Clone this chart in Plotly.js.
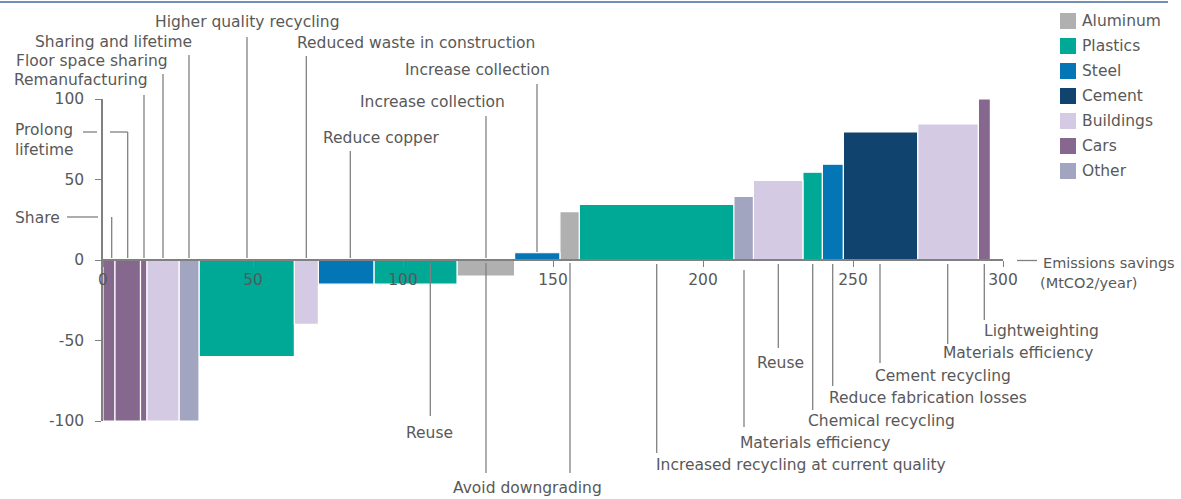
<!DOCTYPE html>
<html>
<head>
<meta charset="utf-8">
<script src="https://cdn.plot.ly/plotly-3.0.1.min.js"></script>
<style>html,body{margin:0;padding:0;background:#fff;}#chart{width:1181px;height:499px;}</style>
</head>
<body>
<div id="chart"></div>
<script>
// ---- Data ----
const levers = ["Share","Prolong lifetime","Remanufacturing","Floor space sharing","Sharing and lifetime",
  "Higher quality recycling","Reduced waste in construction","Reduce copper","Reuse","Increase collection",
  "Increase collection","Avoid downgrading","Increased recycling at current quality","Materials efficiency","Reuse",
  "Chemical recycling","Reduce fabrication losses","Cement recycling","Materials efficiency","Lightweighting"];
const sectors = ["Cars","Cars","Cars","Buildings","Other",
  "Plastics","Buildings","Steel","Plastics","Aluminum",
  "Steel","Aluminum","Plastics","Other","Buildings",
  "Plastics","Steel","Cement","Buildings","Cars"];
const savings = [4, 8.5, 2.1, 10.8, 6.6, 31.8, 8, 18.5, 27.7, 19.2, 15.1, 6.5, 51.5, 6.5, 16.5, 6.5, 7, 24.8, 20.2, 4];
const costs = [-100, -100, -100, -100, -100, -60, -40, -15, -15, -10, 4.5, 30, 34.5, 39.5, 49.5, 54.5, 59.5, 79.5, 84.5, 100];
const sectorNames = ["Aluminum","Plastics","Steel","Cement","Buildings","Cars","Other"];
const yTicks = [-100, -50, 0, 50, 100];
const xTicks = [0, 50, 100, 150, 200, 250, 300];
const xTitle = ["Emissions savings", "(MtCO2/year)"];

// ---- Styles ----
const sectorColors = {Aluminum:"#b0b0b0", Plastics:"#00a896", Steel:"#0476b6", Cement:"#10436e",
  Buildings:"#d4cae3", Cars:"#86688f", Other:"#a1a5bf"};
const TXT = "#595959", LINE = "#808080";
const FONT = "DejaVu Sans, Verdana, sans-serif";
const FS = 15.5;

// plot area in pixels
const L = 103, T = 99, W = 900, H = 322;
const px = X => (X - L) / W;
const py = Y => (T + H - Y) / H;

// bar positions from cumulative savings
const starts = [];
let acc = 0;
savings.forEach(w => { starts.push(acc); acc += w; });

const traces = sectorNames.map(s => {
  const idx = sectors.map((v, i) => v === s ? i : -1).filter(i => i >= 0);
  return {
    type: "bar", name: s,
    x: idx.map(i => starts[i] + savings[i] / 2),
    width: idx.map(i => savings[i]),
    y: idx.map(i => costs[i]),
    customdata: idx.map(i => levers[i]),
    textposition: "none",
    hovertemplate: "%{customdata}<extra>" + s + "</extra>",
    marker: {color: sectorColors[s], line: {color: "#ffffff", width: 1.2}},
    showlegend: false
  };
});

// label layout (pixel positions)
const labelSpec = [
  {i:0, lx:111.7, l1:217, l2:258, tx:60, ty:218, an:"right", h:[[67,98,217]]},
  {i:1, lx:127.7, l1:132, l2:258, tx:15, ty:140, an:"left", txt:"Prolong<br>lifetime", h:[[83,97,132],[110,127.7,132]]},
  {i:2, lx:144, l1:95, l2:258, tx:148, ty:80, an:"right"},
  {i:3, lx:163, l1:74, l2:258, tx:168, ty:61, an:"right"},
  {i:4, lx:189, l1:55, l2:258, tx:192, ty:42, an:"right"},
  {i:5, lx:247, l1:37, l2:258, tx:246.5, ty:22, an:"center"},
  {i:6, lx:306.3, l1:56, l2:258, tx:297, ty:43, an:"left"},
  {i:7, lx:350.3, l1:151, l2:258, tx:323, ty:138, an:"left"},
  {i:8, lx:430.3, l1:263, l2:416, tx:429, ty:433, an:"center"},
  {i:9, lx:486, l1:116, l2:258, tx:360, ty:102, an:"left"},
  {i:10, lx:537, l1:84, l2:252, tx:405, ty:70, an:"left"},
  {i:11, lx:570, l1:263, l2:473, tx:453, ty:488, an:"left", extra:[[486,263,473]]},
  {i:12, lx:656.7, l1:264, l2:453, tx:656, ty:465, an:"left"},
  {i:13, lx:744, l1:270, l2:427, tx:740, ty:443, an:"left"},
  {i:14, lx:778.3, l1:264, l2:348, tx:780, ty:363, an:"center"},
  {i:15, lx:812.7, l1:264, l2:410, tx:808, ty:421, an:"left"},
  {i:16, lx:832.7, l1:264, l2:386, tx:829, ty:398, an:"left"},
  {i:17, lx:880, l1:264, l2:363, tx:875, ty:376, an:"left"},
  {i:18, lx:947.7, l1:264, l2:344, tx:943, ty:353, an:"left"},
  {i:19, lx:984.3, l1:264, l2:320, tx:984, ty:331, an:"left"}
];

const shapes = [];
const annotations = [];
const lineStyle = {color: LINE, width: 1.3};

labelSpec.forEach(s => {
  shapes.push({type:"line", xref:"paper", yref:"paper", x0:px(s.lx), x1:px(s.lx), y0:py(s.l1), y1:py(s.l2), line:lineStyle});
  (s.h || []).forEach(h => shapes.push({type:"line", xref:"paper", yref:"paper", x0:px(h[0]), x1:px(h[1]), y0:py(h[2]), y1:py(h[2]), line:lineStyle}));
  (s.extra || []).forEach(e => shapes.push({type:"line", xref:"paper", yref:"paper", x0:px(e[0]), x1:px(e[0]), y0:py(e[1]), y1:py(e[2]), line:lineStyle}));
  annotations.push({xref:"paper", yref:"paper", x:px(s.tx), y:py(s.ty), xanchor:s.an, yanchor:"middle",
    align:"left", text:s.txt || levers[s.i], showarrow:false, borderpad:0, borderwidth:0,
    font:{family:FONT, size:FS, color:TXT}});
});

// axis title with dash
shapes.push({type:"line", xref:"paper", yref:"paper", x0:px(1017), x1:px(1037), y0:py(260.5), y1:py(260.5), line:{color:LINE, width:1.3}});
annotations.push({xref:"paper", yref:"paper", x:px(1043), y:py(263), xanchor:"left", yanchor:"middle", text:xTitle[0], showarrow:false, borderpad:0, borderwidth:0, font:{family:FONT, size:14.5, color:TXT}});
annotations.push({xref:"paper", yref:"paper", x:px(1040), y:py(283), xanchor:"left", yanchor:"middle", text:xTitle[1], showarrow:false, borderpad:0, borderwidth:0, font:{family:FONT, size:14.5, color:TXT}});

// top border
shapes.push({type:"line", xref:"paper", yref:"paper", x0:px(0), x1:px(1168), y0:py(2), y1:py(2), line:{color:"#46689b", width:1.5}});

// manual legend
sectorNames.forEach((s, k) => {
  const cy = 21 + k * 25;
  shapes.push({type:"rect", xref:"paper", yref:"paper", x0:px(1060), x1:px(1076), y0:py(cy - 8), y1:py(cy + 8), fillcolor:sectorColors[s], line:{width:0}});
  annotations.push({xref:"paper", yref:"paper", x:px(1082), y:py(cy), xanchor:"left", yanchor:"middle", text:s, showarrow:false, borderpad:0, borderwidth:0, font:{family:FONT, size:FS, color:TXT}});
});

const layout = {
  width: 1181, height: 499,
  margin: {l: L, r: 1181 - L - W, t: T, b: 499 - T - H, pad: 0},
  paper_bgcolor: "#ffffff", plot_bgcolor: "#ffffff",
  barmode: "overlay",
  showlegend: false,
  font: {family: FONT, size: FS, color: TXT},
  xaxis: {
    range: [0, 300], tickvals: xTicks, ticktext: xTicks.map(String),
    anchor: "free", position: 0.5,
    showline: true, linecolor: LINE, linewidth: 1.5,
    ticks: "outside", ticklen: 6, tickcolor: LINE, tickwidth: 1.3,
    showgrid: false, zeroline: false,
    tickfont: {family: FONT, size: FS, color: TXT},
    fixedrange: true
  },
  yaxis: {
    range: [-100, 100], tickvals: yTicks, ticktext: yTicks.map(String),
    showline: true, linecolor: LINE, linewidth: 1.5,
    ticks: "outside", ticklen: 6, tickcolor: LINE, tickwidth: 1.3,
    ticklabelstandoff: 8,
    showgrid: false, zeroline: false,
    tickfont: {family: FONT, size: FS, color: TXT},
    fixedrange: true
  },
  shapes: shapes,
  annotations: annotations
};

Plotly.newPlot("chart", traces, layout, {displayModeBar: false});
</script>
</body>
</html>
